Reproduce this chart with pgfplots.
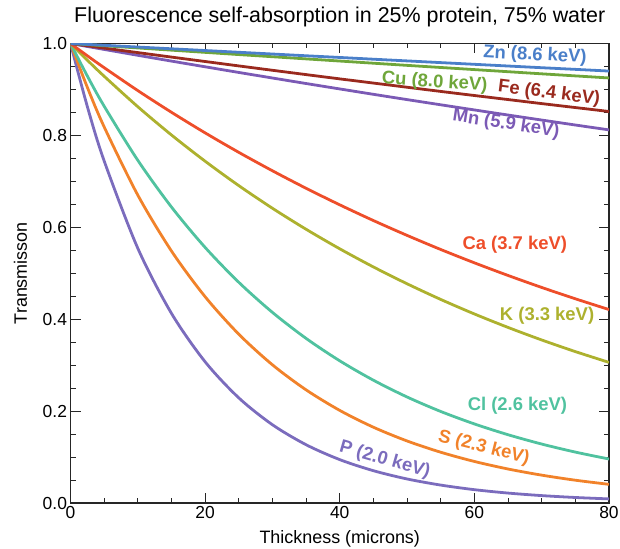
\documentclass[border=0pt]{standalone}
\usepackage{fontspec}
\setmainfont{Liberation Sans}
\usepackage{pgfplots}
\pgfplotsset{compat=1.18}
\usepackage{pgfplotstable}
\usetikzlibrary{calc}
\definecolor{cZn}{HTML}{4A7FC9}
\definecolor{cCu}{HTML}{6FA63A}
\definecolor{cFe}{HTML}{9A2A1E}
\definecolor{cMn}{HTML}{7B5AB5}
\definecolor{cCa}{HTML}{EE4E2A}
\definecolor{cK}{HTML}{ADB12E}
\definecolor{cCl}{HTML}{50C29F}
\definecolor{cS}{HTML}{F1822A}
\definecolor{cP}{HTML}{7B6CBD}
\tikzset{lnode/.style={font=\bfseries\fontsize{18.5}{21}\selectfont, inner sep=0pt}}
\pgfplotstableread{
x Zn Cu Fe Mn Ca K Cl S P
0 1 1 1 1 1 1 1 1 1
2.5 0.9981 0.9976 0.9950 0.9935 0.9733 0.9637 0.9293 0.9047 0.8629
5 0.9961 0.9951 0.9900 0.9871 0.9474 0.9287 0.8636 0.8185 0.7445
10 0.9923 0.9903 0.9802 0.9743 0.8975 0.8624 0.7458 0.6700 0.5543
15 0.9885 0.9855 0.9704 0.9617 0.8503 0.8009 0.6441 0.5484 0.4127
20 0.9847 0.9807 0.9608 0.9493 0.8055 0.7438 0.5562 0.4489 0.3073
25 0.9809 0.9759 0.9512 0.9370 0.7631 0.6907 0.4803 0.3674 0.2288
30 0.9771 0.9712 0.9417 0.9249 0.7230 0.6414 0.4148 0.3007 0.1703
35 0.9733 0.9665 0.9323 0.9129 0.6849 0.5957 0.3582 0.2462 0.1268
40 0.9696 0.9618 0.9230 0.9011 0.6489 0.5532 0.3094 0.2015 0.0944
45 0.9658 0.9571 0.9139 0.8894 0.6147 0.5137 0.2672 0.1649 0.0703
50 0.9621 0.9524 0.9048 0.8779 0.5824 0.4771 0.2307 0.1350 0.0523
55 0.9584 0.9478 0.8957 0.8666 0.5517 0.4430 0.1992 0.1105 0.0390
60 0.9547 0.9432 0.8868 0.8554 0.5227 0.4114 0.1721 0.0904 0.0290
65 0.9510 0.9386 0.8780 0.8443 0.4952 0.3821 0.1486 0.0740 0.0216
70 0.9473 0.9340 0.8692 0.8334 0.4691 0.3548 0.1283 0.0606 0.0161
75 0.9437 0.9295 0.8606 0.8226 0.4444 0.3295 0.1108 0.0496 0.0120
80 0.9400 0.9250 0.8520 0.8120 0.4210 0.3060 0.0957 0.0406 0.0089
}\data
\begin{document}
\begin{tikzpicture}
\begin{axis}[
  scale only axis, width=538.5bp, height=459.5bp,
  xmin=0, xmax=80, ymin=0, ymax=1,
  xtick={0,20,40,60,80}, ytick={0,0.2,0.4,0.6,0.8,1.0},
  minor x tick num=3, minor y tick num=3,
  major tick length=10bp, minor tick length=5bp,
  every tick/.style={black!85, line width=0.9pt},
  axis line style={black!85, line width=1.2pt},
  tick label style={font=\fontsize{17.5}{20}\selectfont},
  /pgf/number format/assume math mode=true,
  yticklabel style={/pgf/number format/.cd, fixed, fixed zerofill, precision=1},
  title={Fluorescence self-absorption in 25\% protein, 75\% water},
  title style={font=\fontsize{21.5}{24}\selectfont, at={(axis description cs:0.5,1.0326)}, anchor=base},
  xlabel={Thickness (microns)},
  ylabel={Transmisson},
  xlabel style={font=\fontsize{18}{20}\selectfont, at={(axis description cs:0.5,-0.0892)}, anchor=base},
  ylabel style={font=\fontsize{18}{20}\selectfont, at={(axis description cs:-0.0808,0.5)}, anchor=base},
  every axis plot/.append style={line width=2.8pt, smooth, no markers},
]
\addplot[cP] table[x=x, y=P] {\data};
\addplot[cS] table[x=x, y=S] {\data};
\addplot[cCl] table[x=x, y=Cl] {\data};
\addplot[cK] table[x=x, y=K] {\data};
\addplot[cCa] table[x=x, y=Ca] {\data};
\addplot[cMn] table[x=x, y=Mn] {\data};
\addplot[cFe] table[x=x, y=Fe] {\data};
\addplot[cCu] table[x=x, y=Cu] {\data};
\addplot[cZn] table[x=x, y=Zn] {\data};
\node[lnode, text=cZn, rotate=-3] at (axis cs:69.0,0.974) {Zn (8.6 keV)};
\node[lnode, text=cCu, rotate=-3.7] at (axis cs:54.1,0.915) {Cu (8.0 keV)};
\node[lnode, text=cFe, rotate=-7.2] at (axis cs:71.1,0.891) {Fe (6.4 keV)};
\node[lnode, text=cMn, rotate=-8.7] at (axis cs:64.7,0.824) {Mn (5.9 keV)};
\node[lnode, text=cCa] at (axis cs:66.0,0.561) {Ca (3.7 keV)};
\node[lnode, text=cK] at (axis cs:70.8,0.407) {K (3.3 keV)};
\node[lnode, text=cCl] at (axis cs:66.4,0.211) {Cl (2.6 keV)};
\node[lnode, text=cS, rotate=-14] at (axis cs:61.4,0.120) {S (2.3 keV)};
\node[lnode, text=cP, rotate=-16] at (axis cs:46.7,0.093) {P (2.0 keV)};
\end{axis}
\pgfresetboundingbox
\path[use as bounding box] ($(current axis.south west)+(-70.5bp,-46bp)$) rectangle ($(current axis.north east)+(11bp,43.5bp)$);
\end{tikzpicture}
\end{document}
